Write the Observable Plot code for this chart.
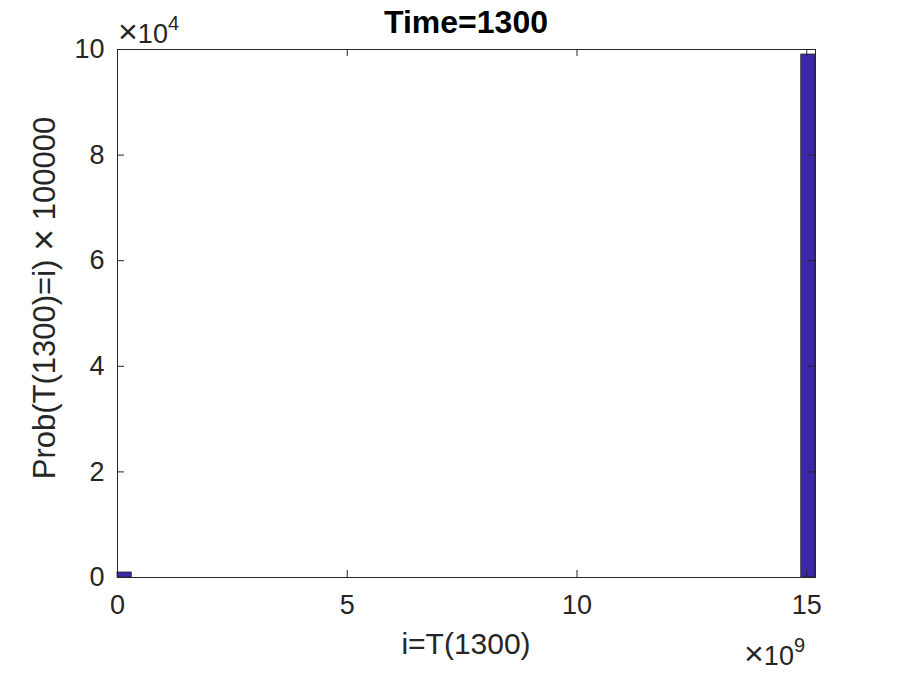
<!DOCTYPE html>
<html>
<head>
<meta charset="utf-8">
<script src="https://cdn.jsdelivr.net/npm/d3@7"></script>
<script src="https://cdn.jsdelivr.net/npm/@observablehq/plot@0.6"></script>
<style>
  html, body { margin: 0; padding: 0; background: #fff; }
  #chart { width: 900px; height: 675px; }
</style>
</head>
<body>
<div id="chart"></div>
<script>
// Histogram bins (x in units of i, y = Prob × 100000)
const binStart = [0, 14.88e9];
const binEnd = [0.31e9, 15.19e9];
const counts = [950, 99050];
const xDomain = [0, 15.19e9];
const yDomain = [0, 1e5];
const xTicks = [0, 5e9, 10e9, 15e9];
const xTickLabels = ["0", "5", "10", "15"];
const yTicks = [0, 2e4, 4e4, 6e4, 8e4, 10e4];
const yTickLabels = ["0", "2", "4", "6", "8", "10"];
const titleText = "Time=1300";
const xLabelText = "i=T(1300)";
const yLabelParts = ["Prob(T(1300)=i) ", "\u00D7", " 100000"];
const xExponent = "9";
const yExponent = "4";

const bins = binStart.map((s, i) => ({x1: s, x2: binEnd[i], count: counts[i]}));

const ink = "#262626";
const font = "'Liberation Sans', Arial, Helvetica, sans-serif";

const W = 900, H = 675;
const mL = 117, mR = 85, mT = 49, mB = 98;
const fw = W - mL - mR, fh = H - mT - mB;

const chart = Plot.plot({
  width: W, height: H,
  marginLeft: mL, marginRight: mR, marginTop: mT, marginBottom: mB,
  style: {fontFamily: font, fontSize: "27px", color: ink, background: "white", overflow: "visible"},
  x: {domain: xDomain},
  y: {domain: yDomain},
  marks: [
    Plot.rect(bins, {x1: "x1", x2: "x2", y1: 0, y2: "count", fill: "#3E26A8", stroke: ink, strokeWidth: 0.8}),
    Plot.frame({stroke: ink, strokeWidth: 1}),
    // inward ticks (bottom, top, left, right)
    Plot.ruleX(xTicks, {stroke: ink, strokeWidth: 1, insetTop: fh - 7}),
    Plot.ruleX(xTicks, {stroke: ink, strokeWidth: 1, insetBottom: fh - 7}),
    Plot.ruleY(yTicks, {stroke: ink, strokeWidth: 1, insetRight: fw - 7}),
    Plot.ruleY(yTicks, {stroke: ink, strokeWidth: 1, insetLeft: fw - 7}),
    Plot.axisX({ticks: xTicks, tickSize: 0, tickPadding: 17, label: null,
      tickFormat: (d) => xTickLabels[xTicks.indexOf(d)], fontSize: 27, fill: ink}),
    Plot.axisY({ticks: yTicks, tickSize: 0, tickPadding: 13, label: null,
      tickFormat: (d) => yTickLabels[yTicks.indexOf(d)], fontSize: 27, fill: ink})
  ]
});

document.getElementById("chart").appendChild(chart);

const svg = d3.select(chart);
const cx = mL + fw / 2;

// title
svg.append("text")
  .attr("x", cx).attr("y", 33)
  .attr("text-anchor", "middle")
  .attr("font-family", font).attr("font-size", 32).attr("font-weight", "bold")
  .attr("fill", "#000")
  .text(titleText);

// x label
svg.append("text")
  .attr("x", cx).attr("y", 654)
  .attr("text-anchor", "middle")
  .attr("font-family", font).attr("font-size", 30)
  .attr("fill", ink)
  .text(xLabelText);

// y label
const yl = svg.append("text")
  .attr("transform", `translate(55, 298) rotate(-90)`)
  .attr("text-anchor", "middle")
  .attr("font-family", font).attr("font-size", 31)
  .attr("fill", ink)
  .attr("xml:space", "preserve");
yl.append("tspan").text(yLabelParts[0]);
yl.append("tspan").attr("font-size", 38).attr("dy", 2).text(yLabelParts[1]);
yl.append("tspan").attr("dy", -2).text(yLabelParts[2]);

// exponent labels
function exponentLabel(x, y, exp) {
  const t = svg.append("text")
    .attr("x", x).attr("y", y)
    .attr("text-anchor", "start")
    .attr("font-family", font).attr("font-size", 27)
    .attr("fill", ink);
  t.append("tspan").attr("font-size", 34).text("\u00D7");
  t.append("tspan").text("10");
  t.append("tspan").attr("font-size", 20).attr("dy", -13).text(exp);
}
exponentLabel(118, 43, yExponent);
exponentLabel(744, 665, xExponent);
</script>
</body>
</html>
